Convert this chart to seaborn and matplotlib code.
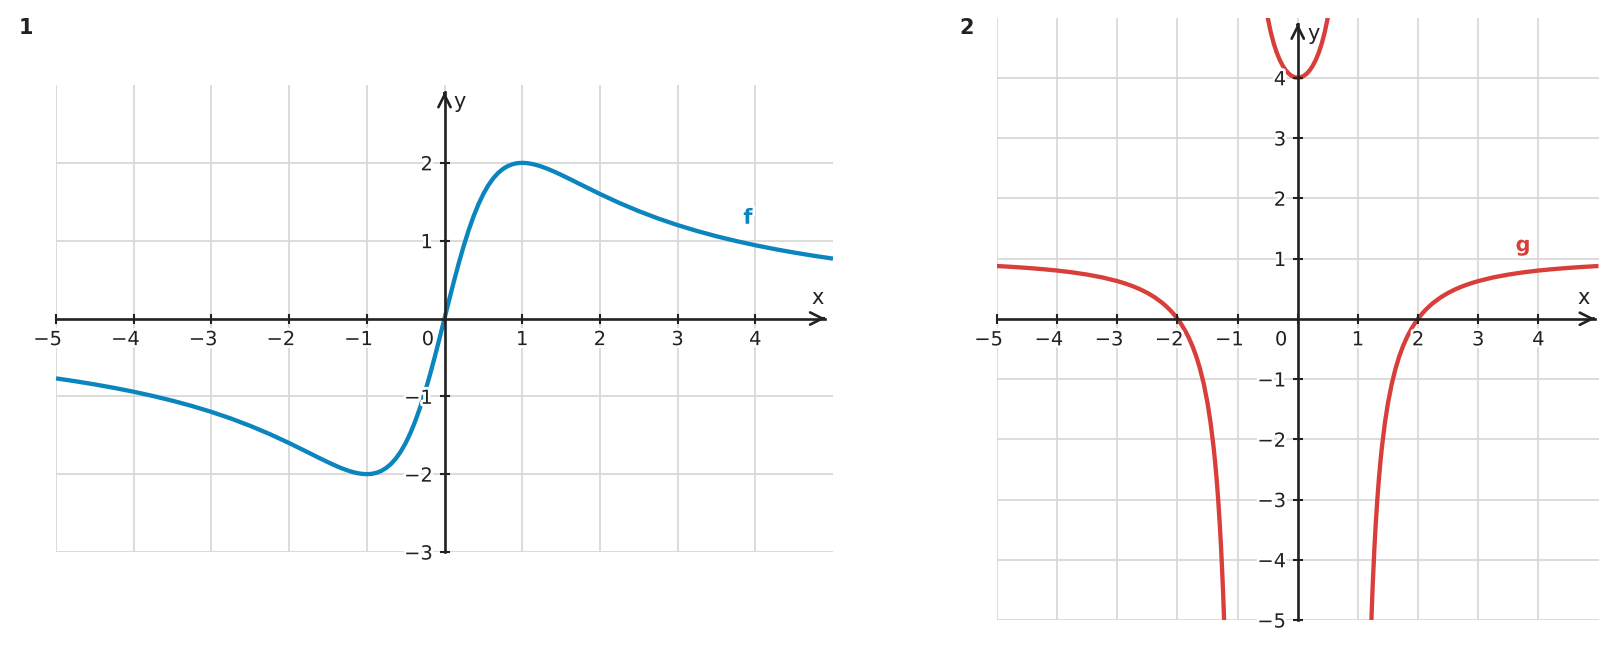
import matplotlib
matplotlib.use("Agg")
import matplotlib.pyplot as plt
import matplotlib.patheffects as pe
import pandas as pd
import seaborn as sns

# ---------------- data ----------------
f_x = [-5.0, -4.75, -4.5, -4.25, -4.0, -3.75, -3.5, -3.25, -3.0, -2.75, -2.5, -2.25, -2.0,
       -1.75, -1.625, -1.5, -1.4375, -1.375, -1.3125, -1.25, -1.1875, -1.125, -1.0625,
       -1.0, -0.9375, -0.875, -0.8125, -0.75, -0.6875, -0.625, -0.5625, -0.5, -0.4375,
       -0.375, -0.3125, -0.25, -0.1875, -0.125, -0.0625, 0.0,
       0.0625, 0.125, 0.1875, 0.25, 0.3125, 0.375, 0.4375, 0.5, 0.5625, 0.625, 0.6875,
       0.75, 0.8125, 0.875, 0.9375, 1.0, 1.0625, 1.125, 1.1875, 1.25, 1.3125, 1.375,
       1.4375, 1.5, 1.625, 1.75, 2.0, 2.25, 2.5, 2.75, 3.0, 3.25, 3.5, 3.75, 4.0, 4.25,
       4.5, 4.75, 5.0]
f_y = [-0.7692, -0.8064, -0.8471, -0.8918, -0.9412, -0.9959, -1.0566, -1.1243, -1.2000,
       -1.2847, -1.3793, -1.4845, -1.6000, -1.7231, -1.7854, -1.8462, -1.8752, -1.9027,
       -1.9283, -1.9512, -1.9708, -1.9862, -1.9963, -2.0000, -1.9958, -1.9823, -1.9576,
       -1.9200, -1.8674, -1.7978, -1.7092, -1.6000, -1.4689, -1.3151, -1.1388, -0.9412,
       -0.7245, -0.4923, -0.2490, 0.0,
       0.2490, 0.4923, 0.7245, 0.9412, 1.1388, 1.3151, 1.4689, 1.6000, 1.7092, 1.7978,
       1.8674, 1.9200, 1.9576, 1.9823, 1.9958, 2.0000, 1.9963, 1.9862, 1.9708, 1.9512,
       1.9283, 1.9027, 1.8752, 1.8462, 1.7854, 1.7231, 1.6000, 1.4845, 1.3793, 1.2847,
       1.2000, 1.1243, 1.0566, 0.9959, 0.9412, 0.8918, 0.8471, 0.8064, 0.7692]

gL_x = [-5.0, -4.75, -4.5, -4.25, -4.0, -3.75, -3.5, -3.25, -3.0, -2.875, -2.75, -2.625,
        -2.5, -2.375, -2.25, -2.1875, -2.125, -2.0625, -2.0, -1.9375, -1.875, -1.8125,
        -1.75, -1.6875, -1.625, -1.5625, -1.5, -1.45, -1.4, -1.375, -1.35, -1.325, -1.3,
        -1.275, -1.25, -1.2375, -1.225, -1.22]
gL_y = [0.875, 0.861, 0.844, 0.824, 0.800, 0.770, 0.733, 0.686, 0.625, 0.587, 0.543, 0.491,
        0.429, 0.354, 0.262, 0.207, 0.147, 0.078, 0.0, -0.089, -0.193, -0.313, -0.455,
        -0.624, -0.829, -1.081, -1.400, -1.721, -2.125, -2.368, -2.647, -2.970, -3.348,
        -3.795, -4.333, -4.645, -4.993, -5.142]

gM_x = [-0.52, -0.5, -0.45, -0.4, -0.35, -0.3, -0.25, -0.2, -0.15, -0.1, -0.05, 0.0,
        0.05, 0.1, 0.15, 0.2, 0.25, 0.3, 0.35, 0.4, 0.45, 0.5, 0.52]
gM_y = [5.112, 5.000, 4.762, 4.571, 4.419, 4.297, 4.200, 4.125, 4.069, 4.030, 4.008, 4.000,
        4.008, 4.030, 4.069, 4.125, 4.200, 4.297, 4.419, 4.571, 4.762, 5.000, 5.112]

gR_x = [1.22, 1.225, 1.2375, 1.25, 1.275, 1.3, 1.325, 1.35, 1.375, 1.4, 1.45, 1.5, 1.5625,
        1.625, 1.6875, 1.75, 1.8125, 1.875, 1.9375, 2.0, 2.0625, 2.125, 2.1875, 2.25,
        2.375, 2.5, 2.625, 2.75, 2.875, 3.0, 3.25, 3.5, 3.75, 4.0, 4.25, 4.5, 4.75, 5.0]
gR_y = [-5.142, -4.993, -4.645, -4.333, -3.795, -3.348, -2.970, -2.647, -2.368, -2.125,
        -1.721, -1.400, -1.081, -0.829, -0.624, -0.455, -0.313, -0.193, -0.089, 0.0, 0.078,
        0.147, 0.207, 0.262, 0.354, 0.429, 0.491, 0.543, 0.587, 0.625, 0.686, 0.733, 0.770,
        0.800, 0.824, 0.844, 0.861, 0.875]

left_xticks = [-5, -4, -3, -2, -1, 0, 1, 2, 3, 4]
left_yticks = [-3, -2, -1, 1, 2]
right_xticks = [-5, -4, -3, -2, -1, 0, 1, 2, 3, 4]
right_yticks = [-5, -4, -3, -2, -1, 1, 2, 3, 4]

panel_labels = ["1", "2"]
curve_names = ["f", "g"]

# ---------------- style ----------------
sns.set_theme(style="white")
plt.rcParams["font.family"] = ["DejaVu Sans"]

BLUE = "#0A85BE"
RED = "#D83E3A"
AXC = "#222222"
GRIDC = "#d6d6d6"
TICKFS = 14
TICKLEN = 7.5
PAD = 4.6
DIGIT_HALF = 0.318 * TICKFS  # half the advance of a digit, in points
halo = [pe.withStroke(linewidth=4, foreground="white")]

fig = plt.figure(figsize=(16.17, 6.48), dpi=100)
W, H = 1617.0, 648.0
axL = fig.add_axes([56 / W, 1 - 552 / H, 777 / W, 467 / H])
axR = fig.add_axes([997 / W, 1 - 620 / H, 601.5 / W, 602.5 / H])


def fmt(v):
    return f"{v}".replace("-", "\u2212")


def setup(ax, xlim, ylim, xticks, yticks, xtip, ytip):
    ax.set_xlim(*xlim)
    ax.set_ylim(*ylim)
    ax.set_xlabel("")
    ax.set_ylabel("")
    ax.grid(False)
    ax.patch.set_alpha(0)
    ax.set_axisbelow(False)
    for x in xticks:
        ax.axvline(x, color=GRIDC, lw=1.2, zorder=0.5)
    for y in yticks:
        ax.axhline(y, color=GRIDC, lw=1.2, zorder=0.5)
    for s in ["top", "right"]:
        ax.spines[s].set_visible(False)
    ax.spines["left"].set_position(("data", 0))
    ax.spines["bottom"].set_position(("data", 0))
    ax.spines["left"].set_bounds(ylim[0], ytip)
    ax.spines["bottom"].set_bounds(xlim[0], xtip)
    for s in ["left", "bottom"]:
        ax.spines[s].set_color(AXC)
        ax.spines[s].set_linewidth(1.9)
        ax.spines[s].set_zorder(3)
    ax.set_xticks(xticks)
    ax.set_yticks(yticks, labels=[fmt(v) for v in yticks])
    ax.tick_params(axis="both", direction="inout", length=TICKLEN, width=1.5, color=AXC,
                   labelsize=TICKFS, labelcolor=AXC, pad=PAD)
    ax.tick_params(axis="both", which="both", bottom=True, left=True, labelbottom=False)
    for t in ax.get_yticklabels():
        t.set_path_effects(halo)
    # x tick labels: digit centred on the tick, minus sign hanging to the left
    for v in xticks:
        if v == 0:
            continue
        ax.annotate(fmt(v), xy=(v, 0), xytext=(DIGIT_HALF, -(TICKLEN / 2 + PAD)),
                    textcoords="offset points", ha="right", va="top", fontsize=TICKFS,
                    color=AXC, path_effects=halo, zorder=5, annotation_clip=False)
    ax.annotate("0", xy=(0, 0), xytext=(-12, -(TICKLEN / 2 + PAD)), textcoords="offset points",
                ha="center", va="top", fontsize=TICKFS, color=AXC, path_effects=halo, zorder=5)
    arrow = dict(arrowstyle="->,head_length=0.4,head_width=0.2", mutation_scale=22,
                 lw=1.9, color=AXC, shrinkA=0, shrinkB=0)
    ax.annotate("", xy=(xtip, 0), xytext=(xtip - 0.02, 0), arrowprops=arrow,
                annotation_clip=False, zorder=4)
    ax.annotate("", xy=(0, ytip), xytext=(0, ytip - 0.02), arrowprops=arrow,
                annotation_clip=False, zorder=4)


line_kw = dict(linewidth=3.1, sort=False, estimator=None, legend=False, zorder=2,
               solid_joinstyle="round", solid_capstyle="butt")

# ---------------- panel 1 ----------------
df_f = pd.DataFrame({"x": f_x, "y": f_y})
sns.lineplot(data=df_f, x="x", y="y", ax=axL, color=BLUE, **line_kw)
setup(axL, (-5, 5), (-3, 3), left_xticks, left_yticks, 4.90, 2.91)
axL.text(4.806, 0.19, "x", ha="center", va="baseline", fontsize=15, color=AXC)
axL.text(0.193, 2.71, "y", ha="center", va="baseline", fontsize=15, color=AXC)
axL.text(3.905, 1.217, curve_names[0], ha="center", va="baseline", fontsize=15,
         fontweight="bold", color=BLUE, path_effects=halo, zorder=6)

# ---------------- panel 2 ----------------
df_g = pd.concat([
    pd.DataFrame({"x": gL_x, "y": gL_y, "branch": 0}),
    pd.DataFrame({"x": gM_x, "y": gM_y, "branch": 1}),
    pd.DataFrame({"x": gR_x, "y": gR_y, "branch": 2}),
], ignore_index=True)
sns.lineplot(data=df_g, x="x", y="y", units="branch", ax=axR, color=RED, **line_kw)
setup(axR, (-5, 5), (-5, 5), right_xticks, right_yticks, 4.94, 4.9)
axR.text(4.76, 0.25, "x", ha="center", va="baseline", fontsize=15, color=AXC)
axR.text(0.26, 4.62, "y", ha="center", va="baseline", fontsize=15, color=AXC)
axR.text(3.745, 1.12, curve_names[1], ha="center", va="baseline", fontsize=15,
         fontweight="bold", color=RED, path_effects=halo, zorder=6)

# panel numbers
fig.text(26 / W, 1 - 34.3 / H, panel_labels[0], ha="center", va="baseline", fontsize=15,
         fontweight="bold", color=AXC)
fig.text(967 / W, 1 - 34.3 / H, panel_labels[1], ha="center", va="baseline", fontsize=15,
         fontweight="bold", color=AXC)

fig.savefig("out.png", dpi=100, facecolor="white")
